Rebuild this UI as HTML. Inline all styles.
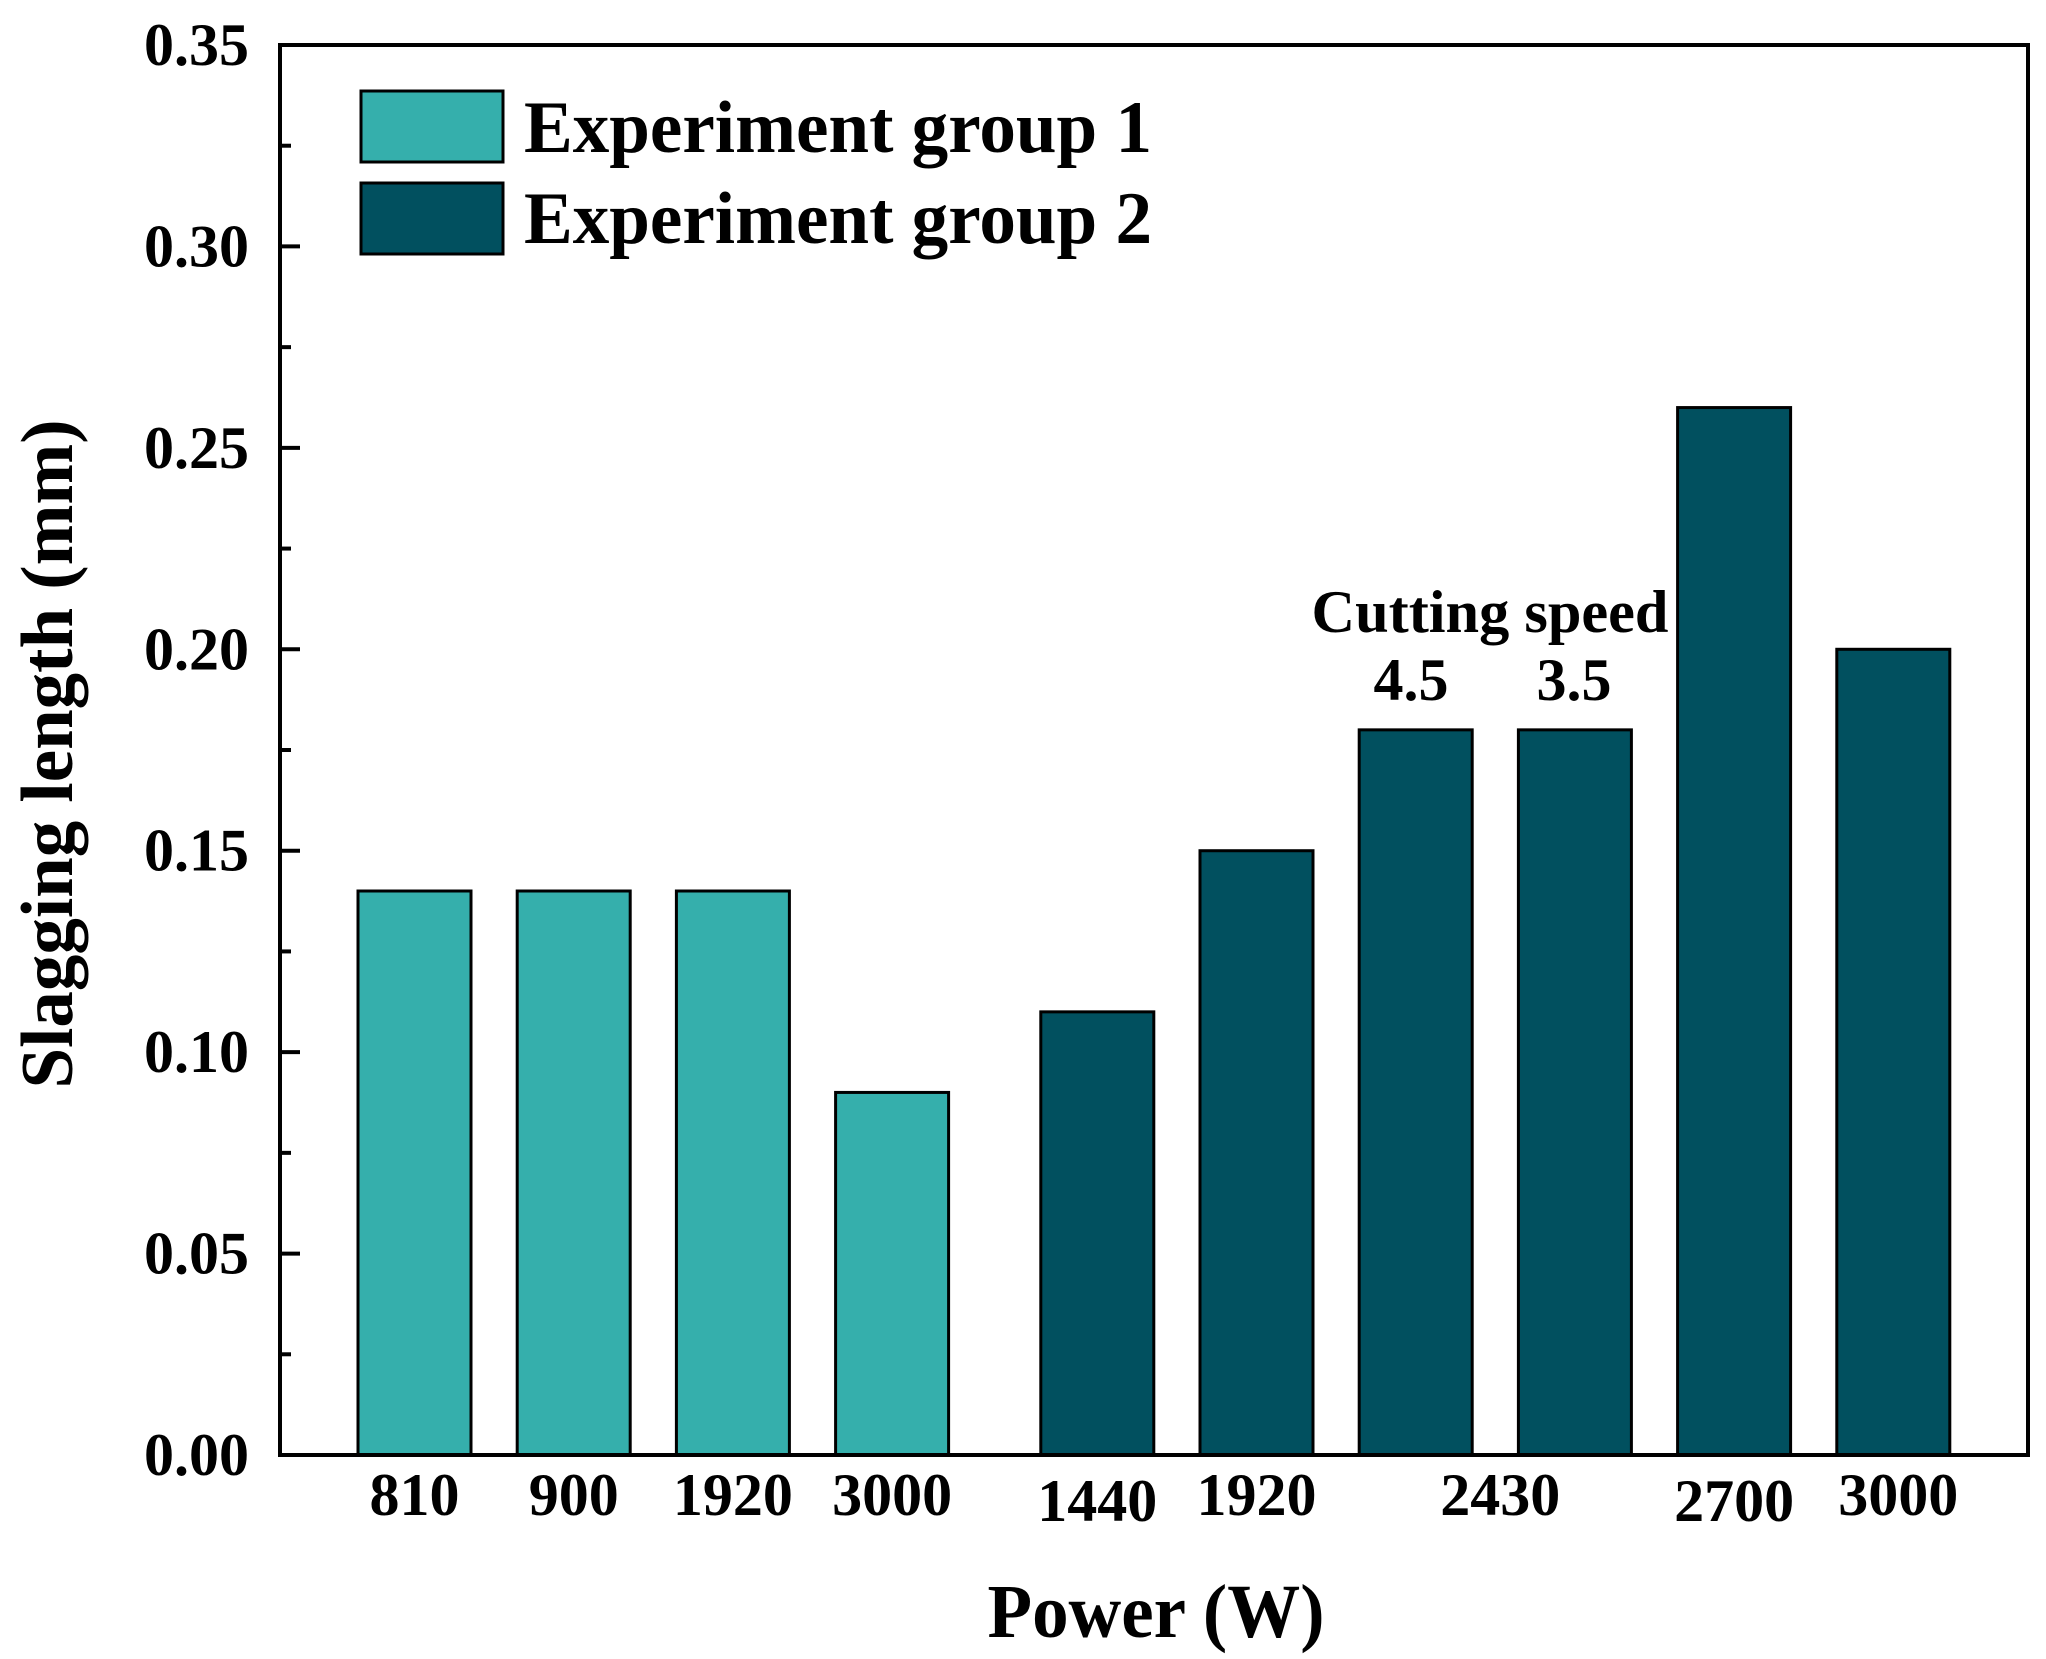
<!DOCTYPE html>
<html><head><meta charset="utf-8"><style>
html,body{margin:0;padding:0;background:#fff;}
svg{display:block;font-family:"Liberation Serif",serif;font-weight:bold;}
</style></head><body>
<svg id="chart" width="2046" height="1659" viewBox="0 0 2046 1659" xmlns="http://www.w3.org/2000/svg">
<g id="bars"></g>
<g id="axes"></g>
<g>
  <rect x="361" y="91" width="142" height="71" fill="#35AFAC" stroke="#000" stroke-width="3"/>
  <text x="524" y="152" font-size="74" textLength="628" lengthAdjust="spacingAndGlyphs">Experiment group 1</text>
  <rect x="361" y="183" width="142" height="71" fill="#01505F" stroke="#000" stroke-width="3"/>
  <text x="524" y="243" font-size="74" textLength="628" lengthAdjust="spacingAndGlyphs">Experiment group 2</text>
</g>
<text x="1490" y="632" font-size="60" text-anchor="middle" textLength="357" lengthAdjust="spacingAndGlyphs">Cutting speed</text>
<text x="1411" y="700" font-size="60" text-anchor="middle">4.5</text>
<text x="1574" y="700" font-size="60" text-anchor="middle">3.5</text>
<text x="1156" y="1637" font-size="76" text-anchor="middle" textLength="337" lengthAdjust="spacingAndGlyphs">Power (W)</text>
<text transform="translate(72,754) rotate(-90)" font-size="74" text-anchor="middle" textLength="669" lengthAdjust="spacingAndGlyphs">Slagging length (mm)</text>
</svg>
<script>
const categories = ["810","900","1920","3000","1440","1920","2430","2430","2700","3000"];
const groupIds = [1,1,1,1,2,2,2,2,2,2];
const values = [0.14,0.14,0.14,0.09,0.11,0.15,0.18,0.18,0.26,0.20];
const yTicks = [0,0.05,0.10,0.15,0.20,0.25,0.30,0.35];
const yTickLabels = ["0.00","0.05","0.10","0.15","0.20","0.25","0.30","0.35"];
const xLabels = ["810","900","1920","3000","1440","1920","2430","2700","3000"];

const NS="http://www.w3.org/2000/svg";
const L=280,R=2028,T=45,B=1455,yMax=0.35;
const step=159.2,gap=46,first=414.5,bw=113;
function y(v){return B-(v/yMax)*(B-T);}
function xc(i){return first+i*step+(groupIds[i]===2?gap:0);}
function mk(tag,attrs){const e=document.createElementNS(NS,tag);for(const k in attrs)e.setAttribute(k,attrs[k]);return e;}
const bars=document.getElementById('bars'),axes=document.getElementById('axes'),svg=document.getElementById('chart');
values.forEach((v,i)=>{
  const r=mk('rect',{x:xc(i)-bw/2,y:y(v),width:bw,height:B-y(v),fill:groupIds[i]===1?'#35AFAC':'#01505F',stroke:'#000','stroke-width':3});
  
  
  bars.appendChild(r);
});
const f=mk('rect',{x:L,y:T,width:R-L,height:B-T,fill:'none',stroke:'#000','stroke-width':4});


axes.appendChild(f);
yTicks.forEach((t,i)=>{
  const ln=mk('line',{x1:L,x2:L+20,y1:y(t),y2:y(t),stroke:'#000','stroke-width':4});
  
  
  axes.appendChild(ln);
  if(i<yTicks.length-1){
    const m=(t+yTicks[i+1])/2;
    const mn=mk('line',{x1:L,x2:L+11,y1:y(m),y2:y(m),stroke:'#000','stroke-width':4});
    
    
    axes.appendChild(mn);
  }
  const tx=mk('text',{x:249,y:y(t)+20,'font-size':60,'text-anchor':'end'});
  tx.textContent=yTickLabels[i];
  
  
  svg.appendChild(tx);
});
const labelX=[xc(0),xc(1),xc(2),xc(3),xc(4),xc(5),(xc(6)+xc(7))/2+5,xc(8),xc(9)+5];
xLabels.forEach((s,i)=>{
  const low=(s==="1440"||s==="2700")?6:0;
  const tx=mk('text',{x:labelX[i],y:1515+low,'font-size':60,'text-anchor':'middle'});
  tx.textContent=s;
  
  
  svg.appendChild(tx);
});
</script>
</body></html>
